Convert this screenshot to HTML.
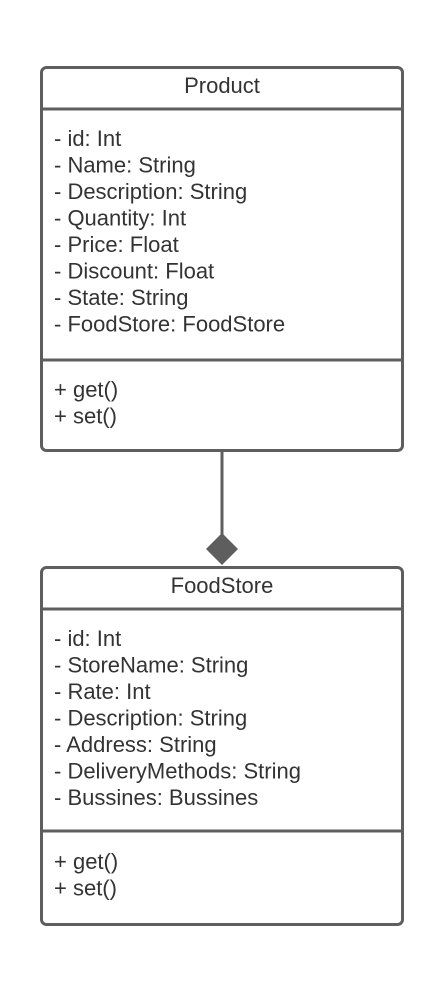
<!DOCTYPE html>
<html><head><style>body{margin:0;background:#fff}</style></head><body>
<svg width="443" height="991" xmlns="http://www.w3.org/2000/svg" font-family="Liberation Sans, Arial, sans-serif" font-size="22" fill="#333">
<g stroke="#5e5e5e" stroke-width="3" fill="none">
<rect x="41.5" y="67.5" width="361" height="383" rx="5"/>
<line x1="41" y1="109" x2="403" y2="109"/>
<line x1="41" y1="360" x2="403" y2="360"/>
<rect x="41.5" y="567.5" width="361" height="357" rx="5"/>
<line x1="41" y1="609" x2="403" y2="609"/>
<line x1="41" y1="831" x2="403" y2="831"/>
<line x1="222" y1="451" x2="222" y2="535"/>
</g>
<polygon points="222,533 238,549 222,565 206,549" fill="#5e5e5e"/>
<text x="222" y="93" text-anchor="middle">Product</text>
<g>
<text x="54" y="146">- id: Int</text>
<text x="54" y="172.5">- Name: String</text>
<text x="54" y="199">- Description: String</text>
<text x="54" y="225.5">- Quantity: Int</text>
<text x="54" y="252">- Price: Float</text>
<text x="54" y="278.5">- Discount: Float</text>
<text x="54" y="305">- State: String</text>
<text x="54" y="331.5">- FoodStore: FoodStore</text>
<text x="54" y="397">+ get()</text>
<text x="54" y="423.5">+ set()</text>
</g>
<text x="222" y="593" text-anchor="middle">FoodStore</text>
<g>
<text x="54" y="646">- id: Int</text>
<text x="54" y="672.5">- StoreName: String</text>
<text x="54" y="699">- Rate: Int</text>
<text x="54" y="725.5">- Description: String</text>
<text x="54" y="752">- Address: String</text>
<text x="54" y="778.5">- DeliveryMethods: String</text>
<text x="54" y="805">- Bussines: Bussines</text>
<text x="54" y="869">+ get()</text>
<text x="54" y="895.5">+ set()</text>
</g>
</svg>
</body></html>
